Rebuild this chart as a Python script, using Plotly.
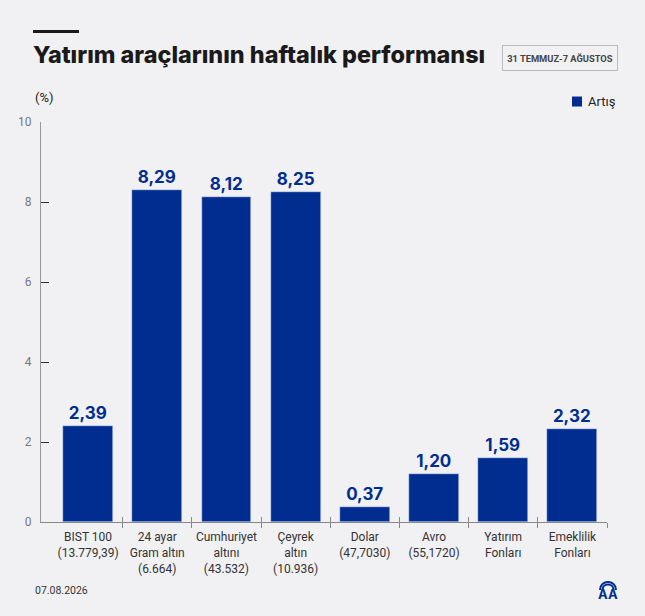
import plotly.graph_objects as go

# haftalik getiri verileri
categories = ["BIST 100<br>(13.779,39)", "24 ayar<br>Gram altın<br>(6.664)", "Cumhuriyet<br>altını<br>(43.532)",
              "Çeyrek<br>altın<br>(10.936)", "Dolar<br>(47,7030)", "Avro<br>(55,1720)",
              "Yatırım<br>Fonları", "Emeklilik<br>Fonları"]
values = [2.39, 8.29, 8.12, 8.25, 0.37, 1.20, 1.59, 2.32]
y_ticks = [0, 2, 4, 6, 8, 10]
series_name = "Artış"

W, H = 645, 616
ML, MR, MT, MB = 41, 38, 121.5, 94
pw, ph = W - ML - MR, H - MT - MB

def px(x):
    return (x - ML) / pw

def py(y):
    return (H - MB - y) / ph

navy = "#002D8F"
bg = "#F1F1F3"
pos = list(range(len(values)))
bounds = [p + 0.5 for p in pos]

fig = go.Figure()
fig.add_trace(go.Bar(
    x=pos, y=values, name=series_name, marker_color=navy, width=0.72,
    text=[f"{v:.2f}".replace(".", ",") for v in values],
    textposition="outside", cliponaxis=False,
    textfont=dict(family="Inter", size=17, color=navy, weight=700),
))

fig.update_layout(
    width=W, height=H,
    margin=dict(l=ML, r=MR, t=MT, b=MB),
    paper_bgcolor=bg, plot_bgcolor=bg,
    font=dict(family="Roboto", color="#333333"),
    bargap=0,
    title=dict(text="Yatırım araçlarının haftalık performansı", xref="container", yref="container",
               x=33 / W, xanchor="left", y=1 - 55 / H, yanchor="middle",
               font=dict(family="Inter", size=23.4, color="#1a1a1a", weight=800)),
    showlegend=False,
    xaxis=dict(range=[-0.68, 7.5], tickmode="array", tickvals=pos, ticktext=categories,
               ticks="", showline=True, linecolor="#888888", linewidth=1, showgrid=False, zeroline=False,
               tickfont=dict(size=12, color="#333333"), ticklabelstandoff=4,
               minor=dict(tickmode="array", tickvals=bounds, ticks="outside", ticklen=5,
                          tickcolor="#888888", tickwidth=1)),
    xaxis2=dict(range=[-0.68, 7.5], overlaying="x", anchor="y", side="bottom", tickmode="array",
                tickvals=bounds, ticks="inside", ticklen=5, tickcolor="#888888", showticklabels=False,
                showline=False, showgrid=False, zeroline=False),
    yaxis=dict(range=[0, 10], tickmode="array", tickvals=y_ticks, ticks="inside", ticklen=8,
               tickcolor="#333333", showline=True, linecolor="#999999", linewidth=1,
               showgrid=False, zeroline=False, tickfont=dict(size=12, color="#777777"),
               ticklabelstandoff=6),
)

# gorunmez iz, ikinci x ekseni cizilsin diye
fig.add_trace(go.Scatter(x=[0], y=[0], xaxis="x2", mode="markers", marker=dict(opacity=0),
                         showlegend=False, hoverinfo="skip"))

fig.add_shape(type="rect", xref="paper", yref="paper", x0=px(33), x1=px(79), y0=py(29.5), y1=py(32.5),
              fillcolor="#1a1a1a", line_width=0)

fig.add_annotation(text="<b>31 TEMMUZ-7 AĞUSTOS</b>", xref="paper", yref="paper", x=px(559.5), y=py(57),
                   xanchor="center", yanchor="middle", showarrow=False, width=106, height=16,
                   font=dict(size=9.3, color="#444444"), bordercolor="#bbbbbb", borderwidth=1, borderpad=4)
fig.add_annotation(text="(%)", xref="paper", yref="paper", x=px(33), y=py(97), xanchor="left",
                   yanchor="middle", showarrow=False, font=dict(size=13, color="#222222"))

# lejant
fig.add_shape(type="rect", xref="paper", yref="paper", x0=px(572), x1=px(582), y0=py(96), y1=py(106),
              fillcolor=navy, line_width=0)
fig.add_annotation(text=series_name, xref="paper", yref="paper", x=px(586), y=py(101), xanchor="left",
                   yanchor="middle", showarrow=False, font=dict(size=13, color="#222222"))

fig.add_annotation(text="07.08.2026", xref="paper", yref="paper", x=px(33), y=py(591), xanchor="left",
                   yanchor="middle", showarrow=False, font=dict(size=10.5, color="#333333"))

# AA logosu
cx, cy = 608, 590
fig.add_annotation(text="<b>AA</b>", xref="paper", yref="paper", x=px(cx), y=py(594.5), xanchor="center",
                   yanchor="middle", showarrow=False, font=dict(family="Inter", size=13, color=navy))
for r in (8, 5.5):
    fig.add_shape(type="path", xref="paper", yref="paper",
                  path=f"M {px(cx - r)},{py(cy)} C {px(cx - r)},{py(cy - r * 1.33)} {px(cx + r)},{py(cy - r * 1.33)} {px(cx + r)},{py(cy)}",
                  line=dict(color=navy, width=2))

fig.write_html("out.html", config={"displayModeBar": False},
               post_script="document.body.style.margin='0';document.body.style.background='#F1F1F3';")
